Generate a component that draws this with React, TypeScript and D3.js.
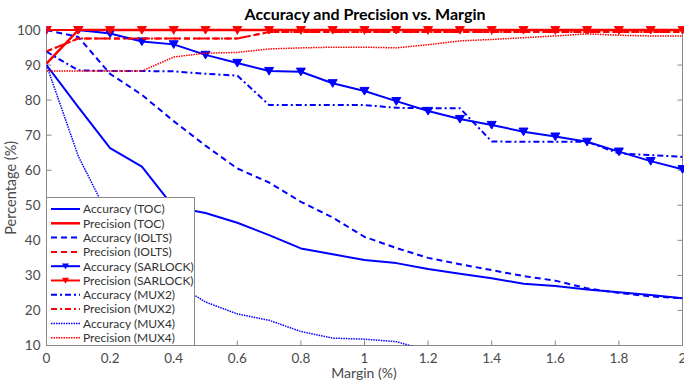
import React from 'react';
import * as d3 from 'd3';

const margins = [0, 0.1, 0.2, 0.3, 0.4, 0.5, 0.6, 0.7, 0.8, 0.9, 1.0, 1.1, 1.2, 1.3, 1.4, 1.5, 1.6, 1.7, 1.8, 1.9, 2.0];

const accTOC = [90, 78, 66.3, 61, 49.5, 47.8, 45, 41.5, 37.7, 36, 34.4, 33.5, 31.8, 30.5, 29.2, 27.6, 27, 26, 25.2, 24.4, 23.5];
const precTOC = [90.4, 100, 100, 100, 100, 100, 100, 100, 100, 100, 100, 100, 100, 100, 100, 100, 100, 100, 100, 100, 100];
const accIOLTS = [100, 98, 87.5, 81.5, 74, 67, 60.5, 56.5, 51, 46.5, 41, 37.8, 35, 33.2, 31.5, 29.8, 28.5, 26.3, 25, 24, 23.5];
const precIOLTS = [93.9, 97.6, 97.6, 97.6, 97.6, 97.6, 97.6, 99.4, 99.4, 99.4, 99.4, 99.4, 99.4, 99.4, 99.4, 99.4, 99.4, 99.4, 99.4, 99.4, 99.4];
const accSARLOCK = [100, 100, 99, 96.7, 95.9, 92.9, 90.6, 88.3, 88.1, 84.8, 82.6, 79.7, 76.9, 74.6, 72.9, 71.0, 69.6, 68.1, 65.3, 62.6, 60.3];
const precSARLOCK = [100, 100, 100, 100, 100, 100, 100, 100, 100, 100, 100, 100, 100, 100, 100, 100, 100, 100, 100, 100, 100];
const accMUX2 = [93.8, 88.5, 88.3, 88.3, 88.2, 87.5, 87, 78.6, 78.6, 78.6, 78.6, 77.8, 77.7, 77.7, 68.2, 68.1, 68.1, 68.1, 64.8, 64.3, 63.8];
const precMUX2 = [93.9, 97.6, 97.6, 97.6, 97.6, 97.6, 97.6, 99.4, 99.4, 99.4, 99.4, 99.4, 99.4, 99.4, 99.4, 99.4, 99.4, 99.4, 99.4, 99.4, 99.4];
const accMUX4 = [90, 64, 46, 36, 28, 22.4, 19, 17.2, 14, 12.1, 11.8, 11.1, 8.5];
const precMUX4 = [88.3, 88.3, 88.3, 88.3, 92.3, 93.4, 93.6, 94.6, 94.9, 95.1, 95.1, 94.9, 95.8, 96.9, 97.3, 97.8, 98.3, 98.9, 98.5, 98.3, 98.3];

const xTicks = [0, 0.2, 0.4, 0.6, 0.8, 1, 1.2, 1.4, 1.6, 1.8, 2];
const yTicks = [10, 20, 30, 40, 50, 60, 70, 80, 90, 100];

const BLUE = '#0000ff';
const RED = '#ff0000';
const FONT = 'Lato, "Open Sans", sans-serif';

const series = [
  { name: 'Accuracy (TOC)', values: accTOC, color: BLUE, dash: null, width: 2, marker: false },
  { name: 'Precision (TOC)', values: precTOC, color: RED, dash: null, width: 2.5, marker: false },
  { name: 'Accuracy (IOLTS)', values: accIOLTS, color: BLUE, dash: '6,4', width: 2, marker: false },
  { name: 'Precision (IOLTS)', values: precIOLTS, color: RED, dash: '6,4', width: 2, marker: false },
  { name: 'Accuracy (SARLOCK)', values: accSARLOCK, color: BLUE, dash: null, width: 2, marker: true },
  { name: 'Precision (SARLOCK)', values: precSARLOCK, color: RED, dash: null, width: 2, marker: true },
  { name: 'Accuracy (MUX2)', values: accMUX2, color: BLUE, dash: '6,3,2,3', width: 2, marker: false },
  { name: 'Precision (MUX2)', values: precMUX2, color: RED, dash: '6,3,2,3', width: 2, marker: false },
  { name: 'Accuracy (MUX4)', values: accMUX4, color: BLUE, dash: '1.5,1', width: 1.5, marker: false },
  { name: 'Precision (MUX4)', values: precMUX4, color: RED, dash: '1.5,1', width: 1.5, marker: false },
];

const W = 684;
const H = 381;
const plot = { left: 46.5, right: 682.5, top: 30, bottom: 345.5 };

// downward triangle centred at (cx, cy)
const tri = (cx: number, cy: number, s = 4.5) =>
  `M${cx - s},${cy - s * 0.8}L${cx + s},${cy - s * 0.8}L${cx},${cy + s * 0.9}Z`;

export default function App() {
  const x = d3.scaleLinear().domain([0, 2]).range([plot.left, plot.right]);
  const y = d3.scaleLinear().domain([10, 100]).range([plot.bottom, plot.top]);

  const line = d3.line<number>()
    .x((_, i) => x(margins[i]))
    .y((d) => y(d));

  const legend = { x: 46.5, y: 197.5, w: 148, h: 148, row0: 209, rowH: 14.3 };
  const axisColor = '#8a8a8a';
  const labelColor = '#4a4a4a';

  return (
    <svg width={W} height={H} style={{ position: 'absolute', left: 0, top: 0, background: '#fff' }}>
      <defs>
        <clipPath id="plotClip">
          <rect x={plot.left} y={plot.top - 4} width={plot.right - plot.left + 6} height={plot.bottom - plot.top + 4} />
        </clipPath>
      </defs>

      <text x={365} y={20} textAnchor="middle" fontFamily={FONT} fontWeight="bold" fontSize={16} fill="#000">
        Accuracy and Precision vs. Margin
      </text>

      {/* axes box */}
      <rect x={plot.left} y={plot.top} width={plot.right - plot.left} height={plot.bottom - plot.top}
        fill="none" stroke={axisColor} strokeWidth={1} />

      {yTicks.map((t) => (
        <g key={'y' + t}>
          <line x1={plot.left} x2={plot.left + 5} y1={y(t)} y2={y(t)} stroke={axisColor} />
          <line x1={plot.right} x2={plot.right - 5} y1={y(t)} y2={y(t)} stroke={axisColor} />
          <text x={plot.left - 6} y={y(t) + 4.5} textAnchor="end" fontFamily={FONT} fontSize={13.5} fill={labelColor}>{t}</text>
        </g>
      ))}
      {xTicks.map((t) => (
        <g key={'x' + t}>
          <line x1={x(t)} x2={x(t)} y1={plot.bottom} y2={plot.bottom - 5} stroke={axisColor} />
          <line x1={x(t)} x2={x(t)} y1={plot.top} y2={plot.top + 5} stroke={axisColor} />
          <text x={x(t)} y={plot.bottom + 17} textAnchor="middle" fontFamily={FONT} fontSize={13.5} fill={labelColor}>{t}</text>
        </g>
      ))}

      <text x={364} y={378} textAnchor="middle" fontFamily={FONT} fontSize={14} fill={labelColor}>Margin (%)</text>
      <text transform={`translate(16, ${(plot.top + plot.bottom) / 2}) rotate(-90)`} textAnchor="middle"
        fontFamily={FONT} fontSize={14.5} fill={labelColor}>Percentage (%)</text>

      {/* data */}
      <g clipPath="url(#plotClip)">
        {series.map((s) => (
          <g key={s.name}>
            <path d={line(s.values) || ''} fill="none" stroke={s.color} strokeWidth={s.width}
              strokeDasharray={s.dash || undefined} strokeLinejoin="round" />
            {s.marker && s.values.map((v, i) => (
              <path key={i} d={tri(x(margins[i]), y(v))} fill={s.color} stroke={s.color} strokeWidth={1} />
            ))}
          </g>
        ))}
      </g>

      {/* legend */}
      <rect x={legend.x} y={legend.y} width={legend.w} height={legend.h} fill="#fff" stroke={axisColor} strokeWidth={1} />
      {series.map((s, i) => {
        const cy = legend.row0 + i * legend.rowH;
        return (
          <g key={'lg' + s.name}>
            <line x1={51} x2={80} y1={cy} y2={cy} stroke={s.color} strokeWidth={s.width}
              strokeDasharray={s.dash || undefined} />
            {s.marker && <path d={tri(65.5, cy, 3.5)} fill={s.color} />}
            <text x={83} y={cy + 4.3} fontFamily={FONT} fontSize={12} fill="#333">{s.name}</text>
          </g>
        );
      })}
    </svg>
  );
}
